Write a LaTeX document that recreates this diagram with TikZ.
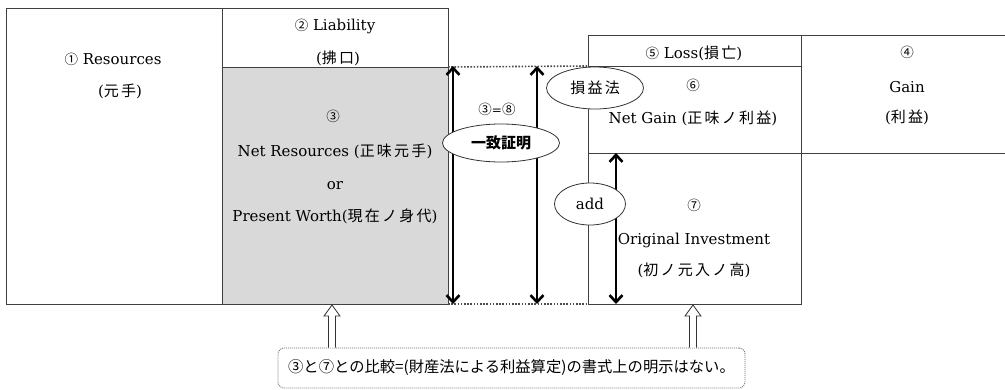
\documentclass[tikz,border=0pt]{standalone}
\usepackage{fontspec}
\setmainfont{DejaVu Serif}
\usetikzlibrary{arrows.meta,shapes.geometric,calc}
\newfontfamily\jp[LetterSpace=15]{Noto Sans CJK JP}
\newfontfamily\jpn{Noto Sans CJK JP}
\newcommand\C[1]{{\jpn\fontsize{13.5}{13.5}\selectfont #1}}
\newcommand\J[1]{{\jp\fontsize{15}{15}\selectfont #1}}
\newcommand\JB[1]{{\jpn\bfseries\fontsize{15}{15}\selectfont #1}}
\begin{document}
\begin{tikzpicture}[x=1pt,y=-1pt,
  box/.style={draw=black!75, line width=0.9pt, inner sep=0pt, outer sep=0pt, rectangle},
  txt/.style={inner sep=0pt, font=\fontsize{15}{18}\selectfont},
  ell/.style={draw=black!80, fill=white, ellipse, line width=0.8pt, inner sep=0pt},
  dbl/.style={line width=2.6pt, {Straight Barb[length=7pt,width=13pt]}-{Straight Barb[length=7pt,width=13pt]}},
  dots/.style={line width=1.6pt, dash pattern=on 1.6pt off 1.6pt, black!70},
  hollow/.style={draw=black!80, fill=white, line width=0.8pt},
  notebox/.style={draw=black!60, dash pattern=on 1pt off 1pt, line width=0.8pt, rounded corners=6pt, inner sep=0pt}]
\useasboundingbox (0,0) rectangle (1005,389);
% boxes
\node[box, minimum width=216pt, minimum height=296pt] (res) at (114,156) {};
\node[box, minimum width=226pt, minimum height=59pt] (liab) at (335,37.5) {};
\node[box, fill=gray!30, minimum width=226pt, minimum height=237pt] (netres) at (335,185.5) {};
\node[box, minimum width=213pt, minimum height=31pt] (loss) at (694.5,50.5) {};
\node[box, minimum width=213pt, minimum height=87pt] (netgain) at (694.5,109.5) {};
\node[box, minimum width=213pt, minimum height=151pt] (orig) at (694.5,228.5) {};
\node[box, minimum width=209pt, minimum height=118pt] (gain) at (905.5,94) {};
% dotted lines
\draw[dots] (netres.north east) -- (netgain.north west);
\draw[dots] (netres.south east) -- (orig.south west);
% arrows
\coordinate (a1t) at (453,66);  \coordinate (a1b) at (453,304);
\coordinate (a2t) at (537,66);  \coordinate (a2b) at (537,304);
\coordinate (a3t) at (616,153); \coordinate (a3b) at (616,304);
\draw[dbl] (a1t) -- (a1b);
\draw[dbl] (a2t) -- (a2b);
\draw[dbl] (a3t) -- (a3b);
% ellipses
\node[ell, minimum width=117pt, minimum height=38pt] (e1) at (501,143) {\JB{一致証明}};
\node[ell, minimum width=97pt, minimum height=42pt] (e2) at (595,88) {\J{損益法}};
\node[ell, minimum width=71pt, minimum height=42pt] (e3) at (590,204) {\fontsize{15}{18}\selectfont add};
% texts
\node[txt] (t1) at (113,59) {\C{①} Resources};
\node[txt] (t1j) at (120,91) {(\J{元手})};
\node[txt] (t2) at (335,26) {\C{②} Liability};
\node[txt] (t2j) at (338,58) {(\J{拂口})};
\node[txt] (t3) at (333,116) {\C{③}};
\node[txt] (t3a) at (335,151) {Net Resources (\J{正味元手})};
\node[txt] (t3b) at (335,186) {or};
\node[txt] (t3c) at (335,216) {Present Worth(\J{現在ノ身代})};
\node[txt] (eq) at (497,109) {\C{③}{\fontsize{12}{12}\selectfont =}\C{⑧}};
\node[txt] (t5) at (694,53) {\C{⑤} Loss(\J{損亡})};
\node[txt] (t6) at (693,85) {\C{⑥}};
\node[txt] (t6a) at (693,118) {Net Gain (\J{正味ノ利益})};
\node[txt] (t7) at (694,205) {\C{⑦}};
\node[txt] (t7a) at (694,240) {Original Investment};
\node[txt] (t7b) at (694,270) {(\J{初ノ元入ノ高})};
\node[txt] (t4) at (907,52) {\C{④}};
\node[txt] (t4a) at (907,87) {Gain};
\node[txt] (t4b) at (907,117) {(\J{利益})};
% note
\node[notebox, minimum width=467pt, minimum height=40pt] (note) at (511.5,368)
  {\jpn\fontsize{15.3}{15.3}\selectfont ③と⑦との比較=(財産法による利益算定)の書式上の明示はない。};
% hollow arrows
\coordinate (h1b) at (note.north -| 332,0);
\coordinate (h1t) at (332,305);
\coordinate (h2b) at (note.north -| 693,0);
\coordinate (h2t) at (693,305);
\draw[hollow] let \p1=(h1b), \p2=(h1t) in
  (\x1-3.5pt,\y1) -- (\x1-3.5pt,\y2-11pt) -- (\x1-8pt,\y2-11pt) -- (\x1,\y2)
  -- (\x1+8pt,\y2-11pt) -- (\x1+3.5pt,\y2-11pt) -- (\x1+3.5pt,\y1);
\draw[hollow] let \p1=(h2b), \p2=(h2t) in
  (\x1-3.5pt,\y1) -- (\x1-3.5pt,\y2-11pt) -- (\x1-8pt,\y2-11pt) -- (\x1,\y2)
  -- (\x1+8pt,\y2-11pt) -- (\x1+3.5pt,\y2-11pt) -- (\x1+3.5pt,\y1);
\end{tikzpicture}
\end{document}
